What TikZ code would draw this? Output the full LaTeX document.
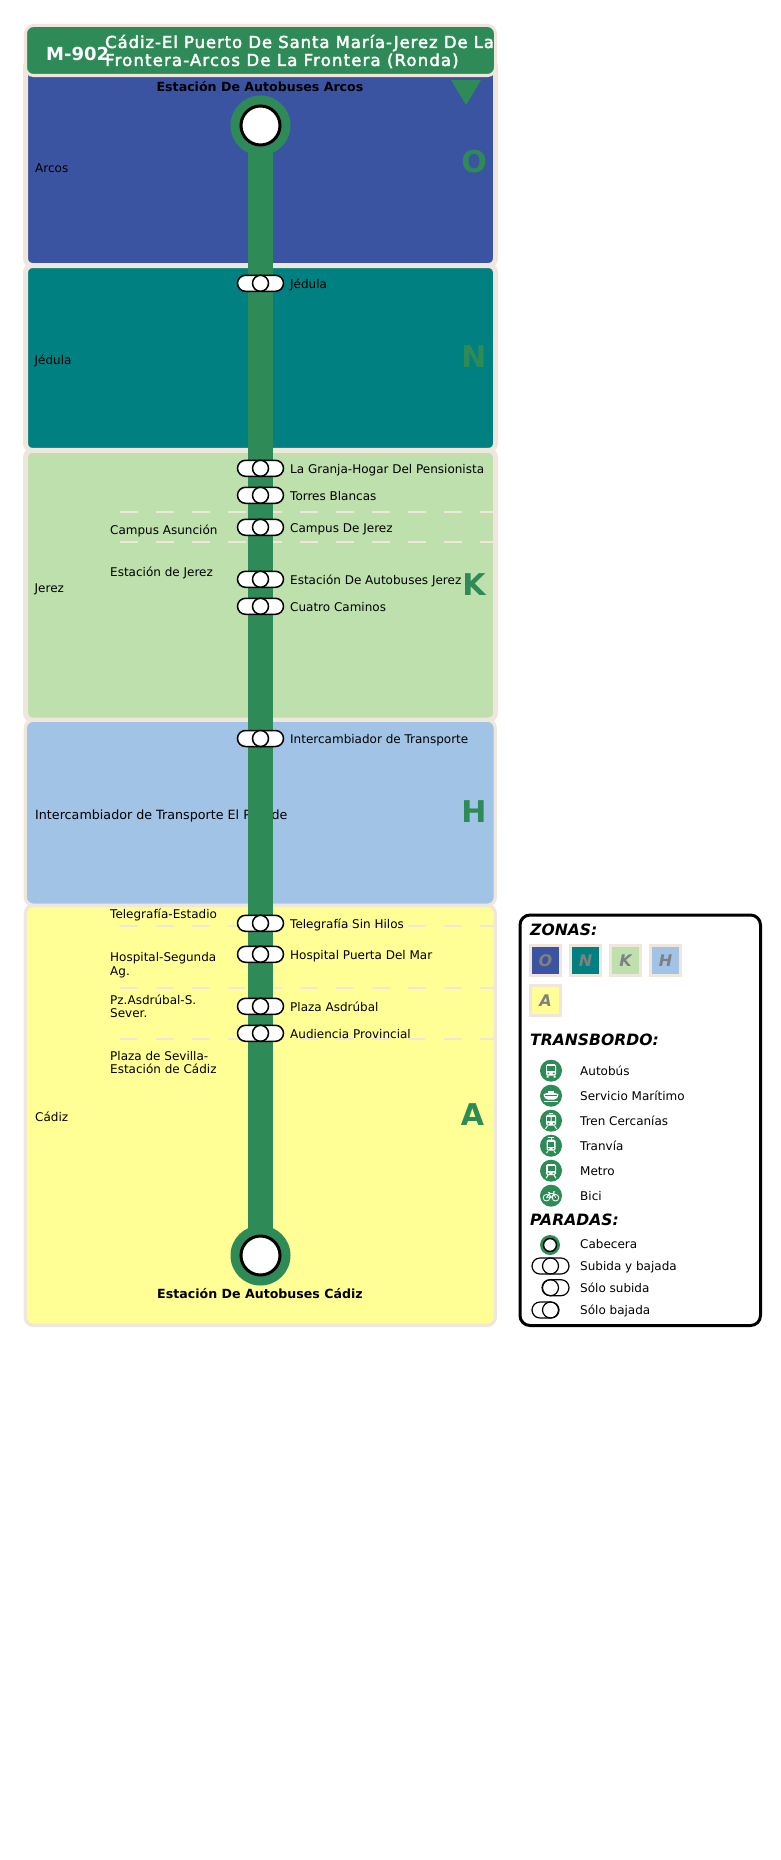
\documentclass[tikz,border=0pt]{standalone}
\usepackage{fontspec}
\setmainfont{DejaVu Sans}
\newfontfamily\faket[FakeBold=2.5,LetterSpace=5.5]{DejaVu Sans}
\newfontfamily\faketb[FakeBold=2.5,LetterSpace=7]{DejaVu Sans}
\usetikzlibrary{shapes.misc,shapes.geometric}
\definecolor{sea}{HTML}{2E8B57}
\definecolor{bord}{HTML}{F0E6DC}
\definecolor{zO}{HTML}{3B54A2}
\definecolor{zN}{HTML}{008080}
\definecolor{zK}{HTML}{BEE0AD}
\definecolor{zH}{HTML}{A0C3E6}
\definecolor{zA}{HTML}{FFFF96}
\newcommand{\sz}[1]{\fontsize{#1}{#1}\selectfont}
\tikzset{
  zonebox/.style={draw=bord,line width=5pt,rounded corners=7pt},
  zoneboxthin/.style={draw=bord,line width=3.2pt,rounded corners=8pt},
  zonedash/.style={draw=bord,line width=2pt,dash pattern=on 18pt off 18pt},
  lbl/.style={anchor=base west,inner sep=0pt,font=\sz{12}},
  lblb/.style={anchor=base,inner sep=0pt,font=\sz{12.6}\bfseries},
  zletter/.style={anchor=base,inner sep=0pt,text=sea,font=\sz{30}\bfseries},
  capsule/.style={rounded rectangle,draw=black,fill=white,line width=1.5pt,minimum width=46pt,minimum height=16pt,inner sep=0pt},
  capsulefree/.style={rounded rectangle,draw=black,line width=1.2pt,minimum height=16pt,inner sep=0pt},
  stopdot/.style={circle,draw=black,fill=white,line width=1.5pt,minimum size=16pt,inner sep=0pt},
  stopdotfree/.style={circle,draw=black,line width=1.2pt,minimum size=16pt,inner sep=0pt},
  termout/.style={circle,fill=sea,minimum size=60pt,inner sep=0pt},
  termin/.style={circle,draw=black,fill=white,line width=3pt,minimum size=39pt,inner sep=0pt},
  swatch/.style={draw=bord,line width=3pt,minimum size=30pt,inner sep=0pt,text=gray,font=\sz{16}\bfseries\itshape},
  lhead/.style={anchor=base west,inner sep=0pt,font=\sz{15.6}\bfseries\itshape},
  icondisc/.style={circle,fill=sea,minimum size=22pt,inner sep=0pt},
  icon bus/.pic={\fill[white,rounded corners=1.5pt] (-5,-6.5) rectangle (5,5);
    \fill[white] (-4.5,5) rectangle (-2.5,7) (2.5,5) rectangle (4.5,7);
    \fill[sea] (-3.8,-4.5) rectangle (3.8,0.5);
    \fill[sea] (-3.5,2) rectangle (-1.8,3.5) (1.8,2) rectangle (3.5,3.5);},
  icon ship/.pic={\fill[white] (-3,-5) rectangle (3,-2.5);
    \fill[white] (-7.5,-1.5) .. controls (-4,-3.5) and (4,-3.5) .. (7.5,-1.5) .. controls (7,2) and (5,4) .. (3,4) -- (-3,4) .. controls (-5,4) and (-7,2) .. (-7.5,-1.5) -- cycle;
    \fill[sea] (-6,-0.7) rectangle (6,0.7);
    \fill[white] (-7,5.2) rectangle (7,6.4);},
  icon train/.pic={\fill[white,rounded corners=1.5pt] (-5,-6) rectangle (5,5);
    \fill[white] (-2,-8) rectangle (2,-7);
    \fill[sea] (-3.8,-3.5) rectangle (-0.5,0.5) (0.5,-3.5) rectangle (3.8,0.5);
    \fill[sea] (-3.5,2.2) rectangle (-2,3.6) (2,2.2) rectangle (3.5,3.6);
    \draw[white,line width=1pt] (-3.5,5) -- (-5.5,8) (3.5,5) -- (5.5,8);},
  icon tram/.pic={\fill[white,rounded corners=1.5pt] (-4.5,-6) rectangle (4.5,5);
    \draw[white,line width=.8pt] (-3,-8.5) -- (3,-8.5) (0,-8.5) -- (0,-6);
    \fill[sea] (-3.3,-3.5) rectangle (3.3,1);
    \fill[sea] (-3,2.4) rectangle (-1.6,3.6) (1.6,2.4) rectangle (3,3.6);
    \draw[white,line width=1pt] (-3,5) -- (-4.5,7.5) (3,5) -- (4.5,7.5);},
  icon metro/.pic={\fill[white,rounded corners=1.5pt] (-5,-6.5) rectangle (5,4.5);
    \fill[sea] (-3.5,-4.5) rectangle (3.5,0.5);
    \fill[sea] (-3.3,2) rectangle (-1.6,3.3) (1.6,2) rectangle (3.3,3.3);
    \draw[white,line width=1pt] (-3,4.5) -- (-5,7.5) (3,4.5) -- (5,7.5);},
  icon bike/.pic={\draw[white,line width=.8pt] (-4.5,2) circle (3.3) (4.5,2) circle (3.3);
    \draw[white,line width=.8pt] (-4.5,2) -- (-1.8,-2.2) -- (3,-2.2) -- (4.5,2) (-1.8,-2.2) -- (0,2) -- (3,-2.2) (0,2) -- (-4.5,2) (-2.8,-3.2) -- (-0.8,-3.2) (3,-2.2) -- (2.5,-4) -- (4.2,-4);}
}
\begin{document}
\begin{tikzpicture}[x=1pt,y=-1pt]
\useasboundingbox (0,0) rectangle (780,1860);
% zones
\path[zonebox,fill=zO] (25.5,60) rectangle (495.5,265.5);
\path[zonebox,fill=zN] (25.5,265.5) rectangle (495.5,450.5);
\path[zonebox,fill=zK] (25.5,450.3) rectangle (495.5,720);
\path[zoneboxthin,fill=zH] (25.3,720.2) rectangle (495.3,905.2);
\path[zoneboxthin,fill=zA] (25.3,905.4) rectangle (495.3,1325.4);
% zone dashes
\draw[zonedash] (119.5,512) -- (493,512);
\draw[zonedash] (119.5,542.3) -- (493,542.3);
\draw[zonedash] (119.5,926.3) -- (494,926.3);
\draw[zonedash] (119.5,988.3) -- (494,988.3);
\draw[zonedash] (119.5,1039.3) -- (494,1039.3);
% zone names
\node[lbl] (zn1) at (35,172.5) {Arcos};
\node[lbl] (zn2) at (34.5,364) {Jédula};
\node[lbl] (zn3) at (34.5,592.5) {Jerez};
\node[lbl,font=\sz{12.7}] (zn4) at (35,819.5) {Intercambiador de Transporte El Puerde};
\node[lbl] (zn5) at (35,1121.5) {Cádiz};
% interchange labels
\node[lbl] (t1) at (110,534.3) {Campus Asunción};
\node[lbl] (t2) at (110,576.7) {Estación de Jerez};
\node[lbl] (t3) at (110,918.3) {Telegrafía-Estadio};
\node[lbl] (t4) at (110,961.5) {Hospital-Segunda};
\node[lbl] (t4b) at (110,975) {Ag.};
\node[lbl] (t5) at (110,1004.5) {Pz.Asdrúbal-S.};
\node[lbl] (t5b) at (110,1017.5) {Sever.};
\node[lbl] (t6) at (110,1060.5) {Plaza de Sevilla-};
\node[lbl] (t6b) at (110,1073.7) {Estación de Cádiz};
% line
\coordinate (lineTop) at (260.5,125.5);
\coordinate (lineBot) at (260.5,1255.5);
\draw[sea,line width=25pt] (lineTop) -- (lineBot);
% header
\path[zonebox,fill=sea,rounded corners=8pt,line width=3pt] (25.5,25.5) rectangle (495.5,75.5);
\node[anchor=base west,inner sep=0pt,text=white,font=\sz{18}\bfseries] (route) at (46,60) {M-902};
\node[anchor=base west,inner sep=0pt,text=white,font=\sz{16.5}\faket] (title1) at (105,48) {Cádiz-El Puerto De Santa María-Jerez De La};
\node[anchor=base west,inner sep=0pt,text=white,font=\sz{16.5}\faketb] (title2) at (105,66) {Frontera-Arcos De La Frontera (Ronda)};
% direction arrow
\fill[sea] (451,80) -- (481,80) -- (466,105) -- cycle;
% zone letters
\node[zletter] (zlO) at (474,172) {O};
\node[zletter] (zlN) at (474,367) {N};
\node[zletter] (zlK) at (474,595) {K};
\node[zletter] (zlH) at (474,822.5) {H};
\node[zletter] (zlA) at (472.5,1125) {A};
% terminals
\node[termout] (termTopO) at (lineTop) {};
\node[termin] (termTop) at (lineTop) {};
\node[termout] (termBotO) at (lineBot) {};
\node[termin] (termBot) at (lineBot) {};
\node[lblb] (termTopL) at (260,92) {Estación De Autobuses Arcos};
\node[lblb] (termBotL) at (260,1298) {Estación De Autobuses Cádiz};
% stops
\foreach \n/\yy/\name in {a/283.3/Jédula,b/468.3/La Granja-Hogar Del Pensionista,c/495.3/Torres Blancas,d/527.3/Campus De Jerez,e/579.3/Estación De Autobuses Jerez,f/606.3/Cuatro Caminos,g/738.5/Intercambiador de Transporte,h/923.3/Telegrafía Sin Hilos,i/954.3/Hospital Puerta Del Mar,j/1006.3/Plaza Asdrúbal,k/1033.3/Audiencia Provincial}{
  \node[capsule] (cap\n) at (260.5,\yy) {};
  \node[stopdot] (dot\n) at (260.5,\yy) {};
  \node[lbl] (lab\n) at (290,\yy+5.2) {\name};
}
% legend
\draw[black,line width=3pt,rounded corners=10pt] (520,915) rectangle (760.5,1325.5);
\node[lhead] (hz) at (530,935) {ZONAS:};
\node[swatch,fill=zO] (sO) at (545.5,960.5) {O};
\node[swatch,fill=zN] (sN) at (585.5,960.5) {N};
\node[swatch,fill=zK] (sK) at (625.5,960.5) {K};
\node[swatch,fill=zH] (sH) at (665.5,960.5) {H};
\node[swatch,fill=zA] (sA) at (545.5,1000.5) {A};
\node[lhead] (ht) at (530,1045) {TRANSBORDO:};
\foreach \n/\yy/\pc/\name in {1/1070.7/icon bus/Autobús,2/1095.7/icon ship/Servicio Marítimo,3/1120.7/icon train/Tren Cercanías,4/1145.7/icon tram/Tranvía,5/1170.7/icon metro/Metro,6/1195.7/icon bike/Bici}{
  \node[icondisc] (ic\n) at (551,\yy) {};
  \pic at (551,\yy) {\pc};
  \node[lbl] (il\n) at (580,\yy+4.5) {\name};
}
\node[lhead] (hp) at (530,1225) {PARADAS:};
\node[circle,fill=sea,minimum size=20pt,inner sep=0pt] (lc0) at (550,1245) {};
\node[circle,draw=black,fill=white,line width=1.5pt,minimum size=13pt,inner sep=0pt] (lc1) at (550,1245) {};
\node[lbl] (ll1) at (580,1248.5) {Cabecera};
\node[capsulefree,minimum width=37pt] (ls) at (550.5,1266) {};
\node[stopdotfree] (lsd) at (550.5,1266) {};
\node[lbl] (ll2) at (580,1270.5) {Subida y bajada};
\node[capsulefree,minimum width=27pt] (lu) at (555.5,1287.7) {};
\node[stopdotfree] (lud) at (550.5,1287.7) {};
\node[lbl] (ll3) at (580,1292) {Sólo subida};
\node[capsulefree,minimum width=27pt] (lb) at (545.5,1310) {};
\node[stopdotfree] (lbd) at (550.5,1310) {};
\node[lbl] (ll4) at (580,1314) {Sólo bajada};
\end{tikzpicture}
\end{document}
